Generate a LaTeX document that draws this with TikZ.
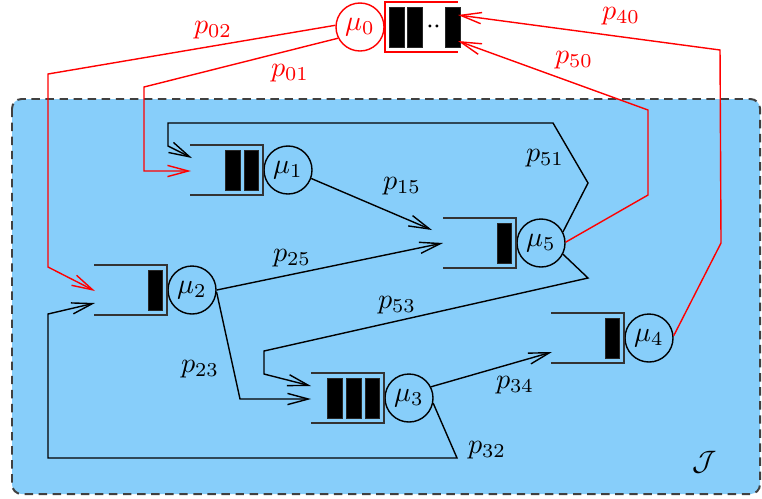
\documentclass[tikz,border=0pt]{standalone}
\usetikzlibrary{arrows.meta}
\usetikzlibrary{calc}
\usetikzlibrary{positioning}
\definecolor{netzblau}{RGB}{135,206,250}
\tikzset{
    %Define standard arrow tip
    >={Straight Barb[length=2.6mm,width=1.4mm]},
    %Define style for service stations
    station/.style={
           circle,
           draw=black, line width=0.5pt,
           minimum size=0.6cm,
           inner sep=0pt},
    %Define style for waiting rooms
    puffer/.style={
           rectangle,
           minimum width=0.9cm,
           minimum height=0.6cm,
           inner sep=0pt},
    %Define style for jobs in a waiting room
    job/.style={
           rectangle,
           fill=black, draw=black!85, line width=0.3pt,
           minimum width=0.185cm,
           minimum height=0.5cm,
           inner sep=0pt},
    % Define wall style
    wand/.style={
           draw=black!80,
           line width=0.7pt},
    % Define arrow style
    pfad/.style={
           ->,
           line width=0.5pt},
}

\begin{document}
\begin{tikzpicture}[x=0.0125cm,y=-0.0125cm]
\useasboundingbox (0,0) rectangle (762,498);

% Netz J
\draw[fill=netzblau, draw=black!75, line width=0.7pt,
dash pattern=on 3pt off 2pt, rounded corners=0.12cm] (12,99) rectangle (760,494);
\node (netz) at (705,462) {$\mathcal{J}$};

% Stationen
\node[station, draw=red, text=red] (mu0) at (360,27) {$\mu_0$};
\node[station] (mu1) at (288,170) {$\mu_1$};
\node[station] (mu2) at (192,290) {$\mu_2$};
\node[station] (mu3) at (409,398) {$\mu_3$};
\node[station] (mu4) at (649,338) {$\mu_4$};
\node[station] (mu5) at (541,243) {$\mu_5$};

% Warteraum 0
\node[puffer, right=0pt of mu0] (q0) {};
\draw[wand, draw=red] (q0.north east) -- (q0.north west) -- (q0.south west)
-- (q0.south east);
\node[job, right=0.05cm of q0.west] (j01) {};
\node[job, right=0.03cm of j01] (j02) {};
\node[job, anchor=east] (j03) at ($ (q0.east) + (3,0) $) {};
\node (dots) at ($ (j02.east)!0.5!(j03.west) $) {$\cdot\cdot$};

% Warteraum 1
\node[puffer, left=0pt of mu1] (q1) {};
\draw[wand] (q1.north west) -- (q1.north east) -- (q1.south east)
-- (q1.south west);
\node[job, left=0.05cm of q1.east] (j11) {};
\node[job, left=0.04cm of j11] (j12) {};

% Warteraum 2
\node[puffer, left=0pt of mu2] (q2) {};
\draw[wand] (q2.north west) -- (q2.north east) -- (q2.south east)
-- (q2.south west);
\node[job, left=0.05cm of q2.east] (j21) {};

% Warteraum 3
\node[puffer, left=0pt of mu3] (q3) {};
\draw[wand] (q3.north west) -- (q3.north east) -- (q3.south east)
-- (q3.south west);
\node[job, left=0.05cm of q3.east] (j31) {};
\node[job, left=0.04cm of j31] (j32) {};
\node[job, left=0.04cm of j32] (j33) {};

% Warteraum 4
\node[puffer, left=0pt of mu4] (q4) {};
\draw[wand] (q4.north west) -- (q4.north east) -- (q4.south east)
-- (q4.south west);
\node[job, left=0.05cm of q4.east] (j41) {};

% Warteraum 5
\node[puffer, left=0pt of mu5] (q5) {};
\draw[wand] (q5.north west) -- (q5.north east) -- (q5.south east)
-- (q5.south west);
\node[job, left=0.05cm of q5.east] (j51) {};

% Eingaenge
\coordinate (e0a) at (458,15);
\coordinate (e0b) at (458,41);
\coordinate (e1a) at (192,158);
\coordinate (e1b) at (191,171);
\coordinate (e2a) at (95,291);
\coordinate (e2b) at (95,303);
\coordinate (e3a) at (311,386);
\coordinate (e3b) at (311,399);
\coordinate (e4a) at (552,352);
\coordinate (e5a) at (432,230);
\coordinate (e5b) at (443,243);

% Pfade im Netz
\draw[pfad] (mu1.-20) -- (e5a);
\draw[pfad] (mu2.east) -- (e5b);
\draw[pfad] (mu2.-5) -- (240,399) -- (e3b);
\draw[pfad] (mu5.-27) -- (588,278) -- (264,351) -- (264,374) -- (e3a);
\draw[pfad] (mu5.27) -- (588,183) -- (553,123) -- (168,123) -- (168,146)
-- (e1a);
\draw[pfad] (mu3.27) -- (e4a);
\draw[pfad] (mu3.-12) -- (457,458) -- (48,458) -- (48,314) -- (e2b);

% Pfade von und nach aussen
\draw[pfad, red] (mu0.207) -- (144,87) -- (144,171) -- (e1b);
\draw[pfad, red] (mu0.176) -- (48,74) -- (48,267) -- (e2a);
\draw[pfad, red] (mu5.2) -- (648,195) -- (648,110) -- (e0b);
\draw[pfad, red] (mu4.5) -- (721,243) -- (720,50) -- (e0a);

% Wahrscheinlichkeiten
\node[text=red] (p02) at (213,30) {$p_{02}$};
\node[text=red] (p01) at (290,73) {$p_{01}$};
\node[text=red] (p50) at (574,60) {$p_{50}$};
\node[text=red] (p40) at (621,16) {$p_{40}$};
\node (p15) at (402,186) {$p_{15}$};
\node (p51) at (545,158) {$p_{51}$};
\node (p25) at (292,258) {$p_{25}$};
\node (p53) at (397,305) {$p_{53}$};
\node (p23) at (200,369) {$p_{23}$};
\node (p34) at (515,385) {$p_{34}$};
\node (p32) at (487,450) {$p_{32}$};
\end{tikzpicture}
\end{document}
